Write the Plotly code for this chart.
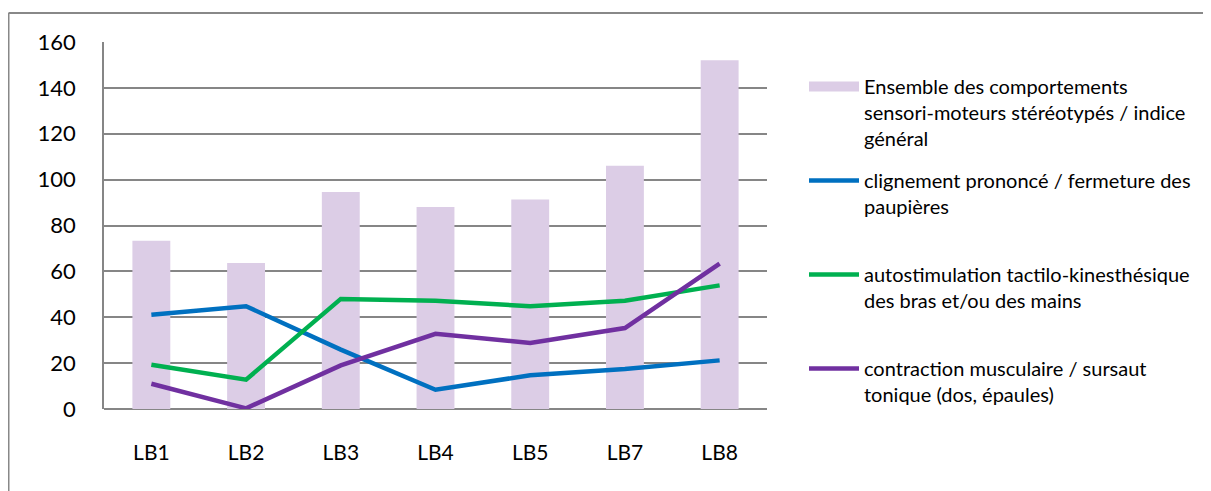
import plotly.graph_objects as go

categories = ["LB1", "LB2", "LB3", "LB4", "LB5", "LB7", "LB8"]
ensemble = [73.3, 63.7, 94.6, 88.1, 91.3, 106.1, 152.0]
clignement = [41.1, 44.8, 25.9, 8.4, 14.7, 17.4, 21.2]
autostim = [19.3, 12.8, 48.0, 47.2, 44.8, 47.2, 53.9]
contraction = [11.0, 0.3, 19.0, 32.8, 28.8, 35.3, 63.4]

names = [
    "Ensemble des comportements<br>sensori-moteurs stéréotypés / indice<br>général",
    "clignement prononcé / fermeture des<br>paupières<br> ",
    "autostimulation tactilo-kinesthésique<br>des bras et/ou des mains<br> ",
    "contraction musculaire / sursaut<br>tonique (dos, épaules)<br> ",
]
yticks = [0, 20, 40, 60, 80, 100, 120, 140, 160]

OFF = 8  # page body margin
W, H = 1211 - OFF, 491 - OFF
L, R, T, B = 104, 767, 42, 409  # screen coords of plot area

fig = go.Figure()
fig.add_trace(go.Bar(x=categories, y=ensemble, name=names[0], marker_color="#DCCDE6",
                     marker_line_width=0, width=0.4, showlegend=False))
fig.add_trace(go.Scatter(x=[None], y=[None], name=names[0], mode="lines",
                         line=dict(color="#DCCDE6", width=11), legendgroup="a"))
for vals, nm, col, g in [(clignement, names[1], "#0070C0", "b"),
                         (autostim, names[2], "#00B050", "c"),
                         (contraction, names[3], "#7030A0", "d")]:
    fig.add_trace(go.Scatter(x=categories, y=vals, name=nm, mode="lines",
                             line=dict(color=col, width=4.5), legendgroup=g))

def px_x(p):
    return (p - L) / (R - L)

def px_y(p):
    return (B - p) / (B - T)

fig.update_layout(
    width=W, height=H,
    margin=dict(l=L - OFF, r=W + OFF - R, t=T - OFF, b=H + OFF - B, pad=0),
    paper_bgcolor="white", plot_bgcolor="white",
    font=dict(family="Lato", size=20, color="#000000"),
    showlegend=True,
    legend=dict(x=px_x(804), y=px_y(67), xanchor="left", yanchor="top",
                valign="top", tracegroupgap=13, traceorder="grouped",
                itemwidth=50, font=dict(size=20, family="Lato"),
                bgcolor="rgba(0,0,0,0)", maxheight=470),
    xaxis=dict(showgrid=False, showline=False, ticks="", tickfont=dict(size=21),
               ticklabelstandoff=29),
    yaxis=dict(range=[0, 160], tickvals=yticks, showgrid=True, gridcolor="#868686",
               gridwidth=1.5, zeroline=True, zerolinecolor="#868686", zerolinewidth=1.5,
               showline=True, linecolor="#868686", linewidth=1.5, ticks="",
               tickfont=dict(size=22), ticklabelstandoff=22),
    shapes=[
        dict(type="line", xref="paper", yref="paper", x0=px_x(8.5), x1=px_x(1215),
             y0=px_y(13), y1=px_y(13), line=dict(color="#888888", width=2)),
        dict(type="line", xref="paper", yref="paper", x0=px_x(8.5), x1=px_x(8.5),
             y0=px_y(13), y1=px_y(495), line=dict(color="#888888", width=2)),
    ],
)
fig.write_html("out.html")
